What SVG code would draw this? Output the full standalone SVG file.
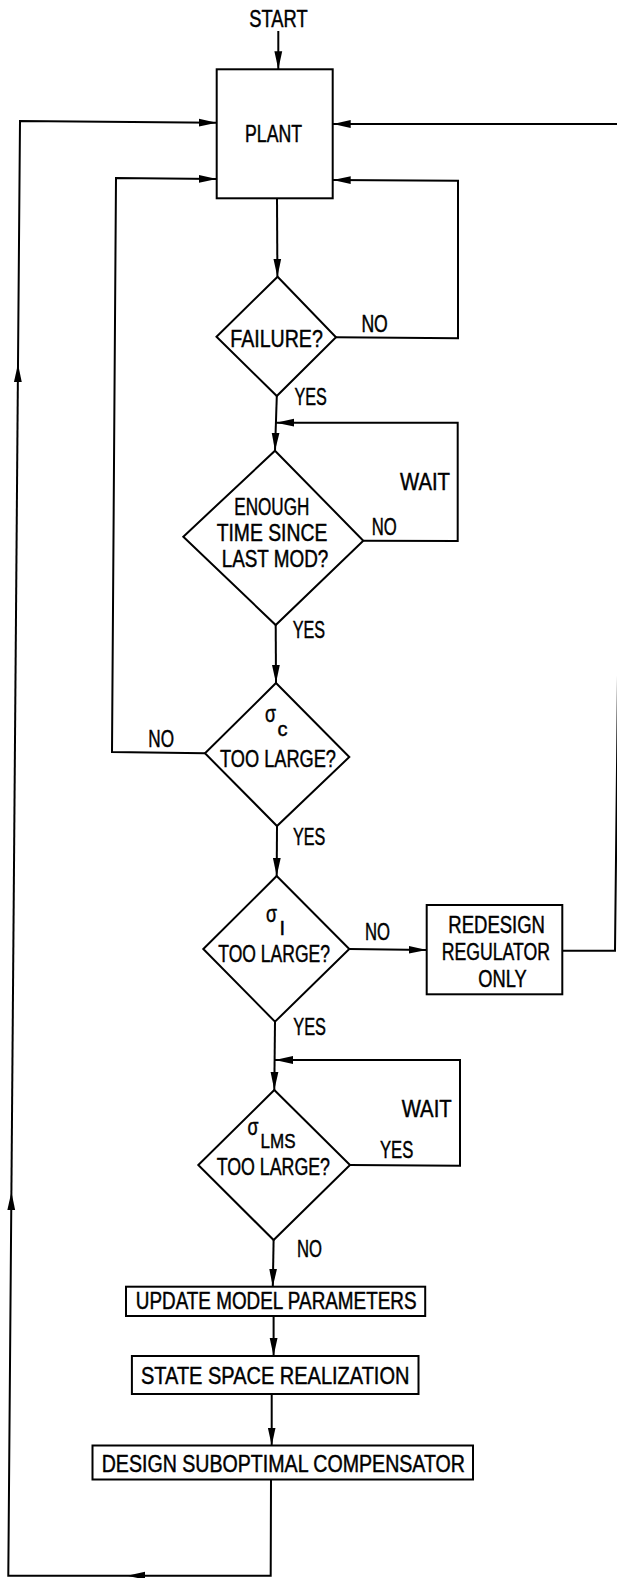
<svg xmlns="http://www.w3.org/2000/svg" width="617" height="1578" viewBox="0 0 617 1578">
<style>
.n{fill:#fff;stroke:#000;stroke-width:2}
.c{fill:none;stroke:#000;stroke-width:2}
.a{marker-end:url(#ah)}
text{font-family:"Liberation Sans",Arial,sans-serif;font-size:23px;fill:#000;stroke:#000;stroke-width:0.45}
.s{font-size:20px}
</style>
<defs>
<marker id="ah" markerUnits="userSpaceOnUse" viewBox="0 0 18 9" markerWidth="18" markerHeight="9" refX="18" refY="4.5" orient="auto">
<path d="M0,0.6 L18,4.5 L0,8.4 z" fill="#000"/>
</marker>
</defs>
<rect width="617" height="1578" fill="#fff"/>
<g id="connectors">
<path class="c a" d="M278.3,31 L278.3,69.3"/>
<path class="c a" d="M277,198.3 L277.4,276.7"/>
<path class="c a" d="M336,337.3 L458,338.3 L458,180.7 L332.7,180"/>
<path class="c a" d="M276.8,396 L275,450.7"/>
<path class="c a" d="M363.3,540.7 L457.7,541 L457.7,422.7 L276,422.7"/>
<path class="c a" d="M275.7,625 L276,683"/>
<path class="c a" d="M205,753.3 L112,752 L116,178 L216.7,179"/>
<path class="c a" d="M277,826 L276.7,876"/>
<path class="c a" d="M349.3,949 L426.7,950"/>
<path class="c a" d="M562.3,950.7 L615,950.7 L624,124 L332.7,124"/>
<path class="c a" d="M275,1021.7 L274.3,1090"/>
<path class="c a" d="M350,1165 L460,1165.7 L460,1060 L275,1060"/>
<path class="c a" d="M273.6,1240 L272.8,1286.7"/>
<path class="c a" d="M273.6,1316 L273.6,1356"/>
<path class="c a" d="M271.7,1394 L271.7,1445.5"/>
<path class="c a" d="M271,1479.5 L270.7,1575.7 L127,1575.7"/>
<path class="c a" d="M127,1575.7 L8.3,1575.7 L11.4,1192"/>
<path class="c a" d="M11.4,1192 L18,364"/>
<path class="c a" d="M18,364 L20,121 L216.7,122.7"/>
</g>
<g id="start">
<text x="249.3" y="26.7" textLength="58.3" lengthAdjust="spacingAndGlyphs">START</text>
</g>
<g id="plant">
<rect class="n" x="216.7" y="69.3" width="116" height="129"/>
<text x="245" y="141.7" textLength="57" lengthAdjust="spacingAndGlyphs">PLANT</text>
</g>
<g id="failure">
<polygon class="n" points="277.6,276.7 336,337.3 276.8,396 216.5,336.7"/>
<text x="230.3" y="346.7" textLength="92.5" lengthAdjust="spacingAndGlyphs">FAILURE?</text>
</g>
<g id="enough-time">
<polygon class="n" points="275,450.7 363.3,540.7 275.7,625 183.3,536.7"/>
<text x="234.3" y="515" textLength="75" lengthAdjust="spacingAndGlyphs">ENOUGH</text>
<text x="216.7" y="540.7" textLength="110.6" lengthAdjust="spacingAndGlyphs">TIME SINCE</text>
<text x="221.7" y="566.7" textLength="106.6" lengthAdjust="spacingAndGlyphs">LAST MOD?</text>
</g>
<g id="sigma-c">
<polygon class="n" points="276,683 349.3,757 277,826 205,753.3"/>
<text x="265" y="721.7" textLength="11" lengthAdjust="spacingAndGlyphs">σ</text>
<text class="s" x="277.5" y="736">c</text>
<text x="220" y="766.7" textLength="116" lengthAdjust="spacingAndGlyphs">TOO LARGE?</text>
</g>
<g id="sigma-i">
<polygon class="n" points="276.7,876 349.3,949 275,1021.7 203.3,949"/>
<text x="266" y="921.7" textLength="11" lengthAdjust="spacingAndGlyphs">σ</text>
<text class="s" x="279.5" y="935">I</text>
<text x="218.3" y="961.7" textLength="111.7" lengthAdjust="spacingAndGlyphs">TOO LARGE?</text>
</g>
<g id="redesign">
<rect class="n" x="426.7" y="905" width="135.6" height="89.3"/>
<text x="448.3" y="933.3" textLength="96.7" lengthAdjust="spacingAndGlyphs">REDESIGN</text>
<text x="441.7" y="960" textLength="108.3" lengthAdjust="spacingAndGlyphs">REGULATOR</text>
<text x="478.3" y="986.7" textLength="48.4" lengthAdjust="spacingAndGlyphs">ONLY</text>
</g>
<g id="sigma-lms">
<polygon class="n" points="274.3,1090 350,1165 273.6,1240 198.3,1165"/>
<text x="247.5" y="1135" textLength="11" lengthAdjust="spacingAndGlyphs">σ</text>
<text class="s" x="260.5" y="1148" textLength="35" lengthAdjust="spacingAndGlyphs">LMS</text>
<text x="216.7" y="1175" textLength="113.3" lengthAdjust="spacingAndGlyphs">TOO LARGE?</text>
</g>
<g id="update">
<rect class="n" x="126" y="1286.7" width="299.2" height="29.3"/>
<text x="135.8" y="1309.3" textLength="280.7" lengthAdjust="spacingAndGlyphs">UPDATE MODEL PARAMETERS</text>
</g>
<g id="state-space">
<rect class="n" x="131.9" y="1356" width="286.6" height="38"/>
<text x="141" y="1384" textLength="268.4" lengthAdjust="spacingAndGlyphs">STATE SPACE REALIZATION</text>
</g>
<g id="design">
<rect class="n" x="92.5" y="1445.5" width="380.5" height="34"/>
<text x="101.7" y="1471.7" textLength="363.3" lengthAdjust="spacingAndGlyphs">DESIGN SUBOPTIMAL COMPENSATOR</text>
</g>
<g id="labels">
<text x="361.4" y="331.7" textLength="26.4" lengthAdjust="spacingAndGlyphs">NO</text>
<text x="294.5" y="405" textLength="32.3" lengthAdjust="spacingAndGlyphs">YES</text>
<text x="400" y="490" textLength="50" lengthAdjust="spacingAndGlyphs">WAIT</text>
<text x="371.7" y="535" textLength="25" lengthAdjust="spacingAndGlyphs">NO</text>
<text x="292.7" y="638.3" textLength="32.3" lengthAdjust="spacingAndGlyphs">YES</text>
<text x="148.3" y="746.7" textLength="25.7" lengthAdjust="spacingAndGlyphs">NO</text>
<text x="293" y="845" textLength="32.3" lengthAdjust="spacingAndGlyphs">YES</text>
<text x="365" y="940" textLength="25" lengthAdjust="spacingAndGlyphs">NO</text>
<text x="293.3" y="1035" textLength="32.7" lengthAdjust="spacingAndGlyphs">YES</text>
<text x="401.7" y="1116.7" textLength="50" lengthAdjust="spacingAndGlyphs">WAIT</text>
<text x="380" y="1158.3" textLength="33.3" lengthAdjust="spacingAndGlyphs">YES</text>
<text x="297" y="1257" textLength="25" lengthAdjust="spacingAndGlyphs">NO</text>
</g>
</svg>
